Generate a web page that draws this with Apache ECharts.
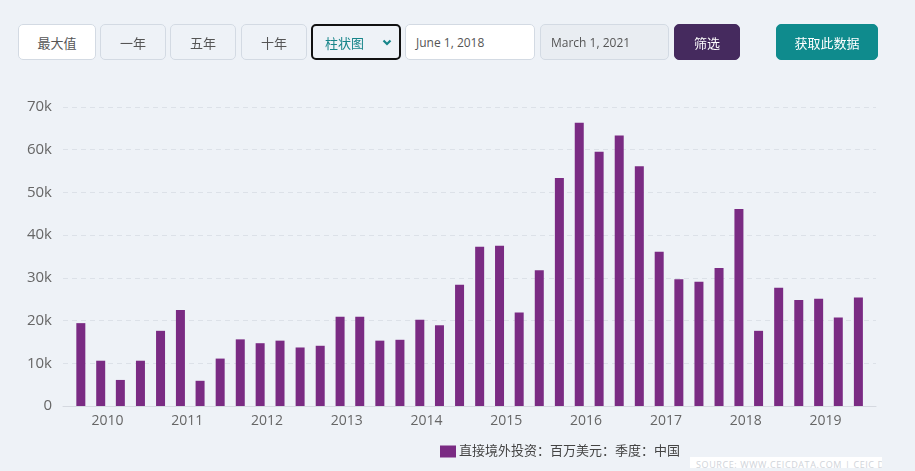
<!DOCTYPE html>
<html>
<head>
<meta charset="utf-8">
<script src="https://cdn.jsdelivr.net/npm/echarts@6/dist/echarts.min.js"></script>
<style>
  html, body { margin: 0; padding: 0; background: #eef2f7; }
  body { width: 915px; height: 471px; position: relative; overflow: hidden;
         font-family: "Open Sans", "Noto Sans CJK SC", sans-serif; }
  #chart { position: absolute; left: 0; top: 0; width: 915px; height: 471px; }
  .ctl { position: absolute; top: 24px; height: 36px; box-sizing: border-box;
         border: 1px solid #d3dae3; border-radius: 5px; font-size: 13px;
         display: flex; align-items: center; justify-content: center; color: #555; }
  .btn { background: #eef2f7; }
  .white { background: #fff; }
  .sel { border: 2px solid #111; color: #17858a; justify-content: flex-start; padding-left: 12px; }
  .sel svg { position: absolute; right: 7px; top: 13px; }
  .date { justify-content: flex-start; padding-left: 10px; font-size: 12px; color: #555; }
  .filter { background: #452a5e; border-color: #452a5e; color: #fff; }
  .fetch { background: #0f8b8d; border-color: #0f8b8d; color: #fff; font-size: 13px; }
  #src { position: absolute; left: 690px; top: 457px; width: 192px; height: 11px;
         overflow: hidden; background: #fff; }
  #src div { position: absolute; left: 6px; top: 3px; font-size: 9px; line-height: 9px;
             color: #d0d4da; white-space: nowrap; letter-spacing: 0.6px; }
</style>
</head>
<body>
<div id="chart"></div>

<div class="ctl white" style="left:18px;width:78px;">最大值</div>
<div class="ctl btn" style="left:100px;width:66px;">一年</div>
<div class="ctl btn" style="left:170px;width:66px;">五年</div>
<div class="ctl btn" style="left:241px;width:66px;">十年</div>
<div class="ctl btn sel" style="left:311px;width:90px;">柱状图
  <svg width="10" height="7" viewBox="0 0 10 7"><polyline points="1.5,1.5 5,5 8.5,1.5" fill="none" stroke="#17858a" stroke-width="2.2"/></svg>
</div>
<div class="ctl white date" style="left:405px;width:130px;">June 1, 2018</div>
<div class="ctl btn date" style="left:540px;width:129px;background:#e9edf2;">March 1, 2021</div>
<div class="ctl filter" style="left:674px;width:66px;">筛选</div>
<div class="ctl fetch" style="left:776px;width:102px;">获取此数据</div>
<div id="src"><div>SOURCE: WWW.CEICDATA.COM | CEIC Data</div></div>

<script>
const seriesName = '直接境外投资：百万美元：季度：中国';

// quarterly observations (plotted on the first day of the quarter's last month)
const dates = [
  '2009-09-01', '2009-12-01',
  '2010-03-01', '2010-06-01', '2010-09-01', '2010-12-01',
  '2011-03-01', '2011-06-01', '2011-09-01', '2011-12-01',
  '2012-03-01', '2012-06-01', '2012-09-01', '2012-12-01',
  '2013-03-01', '2013-06-01', '2013-09-01', '2013-12-01',
  '2014-03-01', '2014-06-01', '2014-09-01', '2014-12-01',
  '2015-03-01', '2015-06-01', '2015-09-01', '2015-12-01',
  '2016-03-01', '2016-06-01', '2016-09-01', '2016-12-01',
  '2017-03-01', '2017-06-01', '2017-09-01', '2017-12-01',
  '2018-03-01', '2018-06-01', '2018-09-01', '2018-12-01',
  '2019-03-01', '2019-06-01'
];

const values = [
  19400, 10600,
  6100, 10600, 17600, 22500,
  5900, 11100, 15600, 14700,
  15300, 13700, 14100, 20900,
  20900, 15300, 15500, 20200,
  18900, 28400, 37300, 37500,
  21900, 31800, 53400, 66300,
  59500, 63300, 56100, 36100,
  29700, 29100, 32300, 46100,
  17600, 27700, 24800, 25100,
  20700, 25400
];

const yTicks = [0, 10000, 20000, 30000, 40000, 50000, 60000, 70000];

const YEAR = 365 * 24 * 3600 * 1000;
const chart = echarts.init(document.getElementById('chart'));

chart.setOption({
  backgroundColor: '#eef2f7',
  animation: false,
  textStyle: { fontFamily: '"Open Sans", "Noto Sans CJK SC", sans-serif' },
  grid: { left: 63, right: 39, top: 107, bottom: 65 },
  legend: {
    left: 440,
    top: 445,
    padding: 0,
    itemWidth: 16,
    itemHeight: 12,
    itemGap: 6,
    icon: 'rect',
    textStyle: { color: '#444', fontSize: 13, padding: [0, 0, 0, -2] },
    data: [seriesName]
  },
  xAxis: {
    type: 'time',
    // the bar series widens this range by half a bar on each side
    min: '2009-07-02',
    max: '2019-07-31',
    minInterval: YEAR,
    maxInterval: YEAR + 2 * 24 * 3600 * 1000,
    splitNumber: 10,
    axisLine: { lineStyle: { color: '#d5d9e0' } },
    axisTick: { show: false },
    splitLine: { show: false },
    axisLabel: {
      color: '#666',
      fontSize: 14,
      margin: 8,
      formatter: '{yyyy}'
    }
  },
  yAxis: {
    type: 'value',
    min: yTicks[0],
    max: yTicks[yTicks.length - 1],
    interval: 10000,
    axisLine: { show: false },
    axisTick: { show: false },
    splitLine: { lineStyle: { color: '#dce1e8', type: [5, 4] } },
    axisLabel: {
      color: '#666',
      fontSize: 15,
      margin: 11,
      formatter: (v) => (v === 0 ? '0' : v / 1000 + 'k')
    }
  },
  series: [
    {
      name: seriesName,
      type: 'bar',
      barWidth: 9,
      itemStyle: { color: '#7a2b83' },
      data: dates.map((d, i) => [d, values[i]])
    }
  ]
});
</script>
</body>
</html>
